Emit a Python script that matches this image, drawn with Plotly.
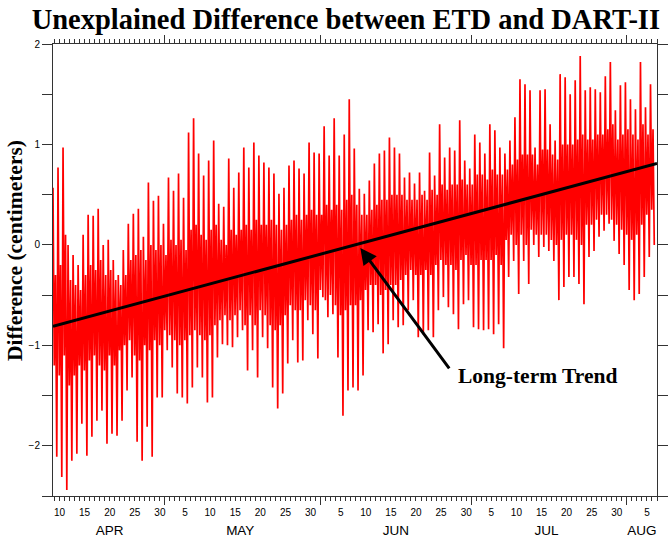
import pandas as pd
import plotly.graph_objects as go

# Daily readings (one row of 24 per fifth of the record), centimetres
day_top = [0.57,0.77,0.97,0.0,-0.1,-0.2,0.1,0.3,0.29,0.36,0.0,0.05,-0.15,-0.3,-0.05,0.21,0.31,0.36,0.08,0.62,0.44,0.49,0.21,0.67,
           0.54,0.71,0.47,1.12,1.26,0.91,0.69,0.84,1.04,0.41,0.38,0.86,0.57,0.72,0.97,0.77,1.02,0.89,0.82,0.77,0.71,0.51,0.57,0.79,
           0.84,0.76,0.71,1.02,0.92,0.91,1.18,0.89,1.26,0.89,1.1,1.45,0.96,0.56,0.51,0.64,0.81,0.91,0.94,1.07,0.97,0.91,0.67,0.72,
           0.61,0.72,0.54,0.92,0.69,1.2,0.87,0.97,0.94,1.24,0.84,0.76,1.1,1.02,0.91,1.2,1.14,0.97,0.91,1.04,1.27,1.65,1.6,1.54,
           0.97,1.54,1.55,1.2,1.04,1.7,1.67,1.5,1.64,1.88,1.54,1.57,1.55,1.52,1.68,1.82,1.34,1.59,1.62,1.45,1.35,1.82,1.37,1.6]
day_body_lo = [-1.2,-1.3,-1.1,-1.4,-1.3,-1.2,-1.25,-1.15,-1.1,-1.2,-1.25,-1.1,-1.2,-1.05,-1.0,-0.95,-1.1,-1.15,-1.0,-1.05,-0.95,-1.0,-0.85,-0.9,
               -0.95,-1.0,-0.95,-0.9,-0.85,-0.9,-0.95,-0.9,-0.8,-0.75,-0.7,-0.75,-0.7,-0.65,-0.8,-0.7,-0.8,-0.65,-0.7,-0.8,-0.85,-0.8,-0.7,-0.6,
               -0.65,-0.65,-0.55,-0.6,-0.65,-0.45,-0.55,-0.5,-0.6,-0.7,-0.65,-0.6,-0.6,-0.55,-0.45,-0.4,-0.4,-0.5,-0.45,-0.4,-0.4,-0.35,-0.3,-0.25,
               -0.3,-0.3,-0.25,-0.3,-0.2,-0.15,-0.2,-0.2,-0.25,-0.15,-0.1,-0.2,-0.2,-0.15,-0.15,-0.15,-0.1,-0.2,0.05,0.1,0.0,0.1,0.0,0.15,
               0.1,0.1,0.1,0.05,0.0,0.05,0.1,0.1,0.05,0.0,0.2,0.2,0.25,0.3,0.3,0.25,0.2,0.15,0.1,0.05,0.1,0.2,0.3,0.35]
day_bottom = [-2.11,-2.31,-2.44,-2.15,-2.08,-1.78,-2.1,-1.91,-1.75,-1.65,-1.98,-1.88,-1.9,-1.75,-1.45,-1.32,-1.96,-2.15,-1.81,-2.11,-1.52,-1.52,-1.05,-1.22,
              -1.48,-1.52,-1.58,-1.42,-1.22,-1.32,-1.57,-1.52,-1.12,-0.99,-1.0,-1.02,-0.92,-0.85,-1.25,-1.05,-1.32,-0.92,-1.03,-1.42,-1.63,-1.48,-1.18,-0.95,
              -1.17,-1.15,-0.75,-0.89,-1.13,-0.52,-0.72,-0.69,-1.12,-1.7,-1.45,-1.42,-1.45,-1.3,-0.85,-0.87,-0.79,-1.08,-0.99,-0.75,-0.82,-0.8,-0.65,-0.55,
              -0.92,-0.89,-0.85,-0.92,-0.65,-0.52,-0.62,-0.69,-0.84,-0.59,-0.55,-0.82,-0.84,-0.85,-0.84,-0.89,-0.79,-1.03,-0.32,-0.16,-0.49,-0.16,-0.39,0.0,
              -0.12,-0.02,-0.06,-0.16,-0.55,-0.42,-0.32,-0.32,-0.39,-0.59,-0.12,-0.06,0.08,0.14,0.21,0.04,-0.09,-0.2,-0.45,-0.55,-0.49,-0.32,-0.12,0.0]
day_body_hi = [-0.3,-0.2,0.1,-0.35,-0.4,-0.45,-0.3,-0.2,-0.25,-0.15,-0.3,-0.25,-0.35,-0.4,-0.3,-0.15,-0.1,-0.05,-0.15,0.0,-0.05,0.0,-0.1,0.05,
               0.0,0.05,-0.05,0.15,0.2,0.1,0.05,0.15,0.2,0.05,0.0,0.15,0.1,0.15,0.2,0.15,0.25,0.2,0.2,0.25,0.2,0.15,0.2,0.25,
               0.3,0.25,0.3,0.35,0.3,0.3,0.4,0.35,0.4,0.35,0.45,0.5,0.4,0.3,0.3,0.35,0.4,0.45,0.45,0.5,0.5,0.5,0.45,0.45,
               0.45,0.5,0.45,0.55,0.5,0.6,0.55,0.6,0.6,0.65,0.6,0.6,0.7,0.7,0.65,0.75,0.7,0.7,0.75,0.8,0.85,0.9,0.9,0.9,
               0.8,0.95,0.95,0.9,0.85,1.0,1.0,1.0,1.05,1.1,1.05,1.05,1.1,1.1,1.15,1.2,1.05,1.1,1.15,1.1,1.05,1.2,1.1,1.15]

record_start = "2007-04-08 17:00"
sample_step = "6h"

trend_dates = ["2007-04-08 17:00", "2007-08-07 00:00"]
trend_values = [-0.81, 0.81]

x_range = ["2007-04-08 17:00", "2007-08-07 00:00"]
month_starts = ["2007-05-01", "2007-06-01", "2007-07-01", "2007-08-01"]
day_label_dates = ["2007-04-10","2007-04-15","2007-04-20","2007-04-25","2007-04-30",
                   "2007-05-05","2007-05-10","2007-05-15","2007-05-20","2007-05-25","2007-05-30",
                   "2007-06-05","2007-06-10","2007-06-15","2007-06-20","2007-06-25","2007-06-30",
                   "2007-07-05","2007-07-10","2007-07-15","2007-07-20","2007-07-25","2007-07-30",
                   "2007-08-05"]
day_label_text = ["10","15","20","25","30","5","10","15","20","25","30",
                  "5","10","15","20","25","30","5","10","15","20","25","30","5"]
month_label_dates = ["2007-04-20", "2007-05-16", "2007-06-16", "2007-07-16", "2007-08-04"]
month_label_text = ["APR", "MAY", "JUN", "JUL", "AUG"]
y_tick_vals = [-2, -1, 0, 1, 2]
y_tick_text = ["\u22122", "\u22121", "0", "1", "2"]
y_minor_vals = [-2.5, -1.5, -0.5, 0.5, 1.5]

series = []
for a, b, c, d in zip(day_top, day_body_lo, day_body_hi, day_bottom):
    series.extend([a, b, c, d])
times = pd.date_range(start=record_start, periods=len(series), freq=sample_step)

SERIF = "Liberation Serif"
SANS = "Liberation Sans"

fig = go.Figure()
fig.add_trace(go.Scatter(x=times, y=series, mode="lines",
                         line=dict(color="#ff0000", width=1.7, simplify=False),
                         showlegend=False, hoverinfo="skip"))
fig.add_trace(go.Scatter(x=pd.to_datetime(trend_dates), y=trend_values, mode="lines",
                         line=dict(color="black", width=3), showlegend=False, hoverinfo="skip"))
# placeholder traces so the label-only overlay axes get drawn
for ax in ["x2", "x3"]:
    fig.add_trace(go.Scatter(x=[x_range[0]], y=[None], xaxis=ax, yaxis="y", mode="lines",
                             showlegend=False, hoverinfo="skip"))

fig.update_layout(
    width=669, height=539,
    margin=dict(l=53, r=12, t=44, b=43, autoexpand=False),
    paper_bgcolor="white", plot_bgcolor="white",
    title=dict(text="Unexplained Difference between ETD and DART-II",
               font=dict(family=SERIF, size=28.5, color="black", weight="bold"),
               x=0.517, xanchor="center", xref="container", y=0.965, yanchor="middle"),
    xaxis=dict(type="date", range=x_range, tickvals=month_starts, ticktext=[""] * len(month_starts),
               ticks="outside", ticklen=8, tickcolor="#333", tickwidth=1, automargin=False,
               minor=dict(dtick=86400000, ticks="outside", ticklen=4, tickcolor="#333", tickwidth=1),
               showline=True, linecolor="#333", linewidth=1, mirror="ticks",
               showgrid=False, zeroline=False),
    xaxis2=dict(type="date", range=x_range, overlaying="x", anchor="y", side="bottom",
                tickvals=day_label_dates, ticktext=day_label_text, ticks="", automargin=False,
                tickfont=dict(family=SANS, size=10, color="black"), ticklabelstandoff=9,
                showline=False, showgrid=False, zeroline=False),
    xaxis3=dict(type="date", range=x_range, overlaying="x", anchor="y", side="bottom",
                tickvals=month_label_dates, ticktext=month_label_text, ticks="", automargin=False,
                tickfont=dict(family=SANS, size=13.5, color="black"), ticklabelstandoff=24,
                showline=False, showgrid=False, zeroline=False),
    yaxis=dict(range=[-2.5, 2], tickvals=y_tick_vals, ticktext=y_tick_text, automargin=False,
               ticks="outside", ticklen=10, tickcolor="#333", tickwidth=1,
               minor=dict(tickvals=y_minor_vals, ticks="outside", ticklen=10, tickcolor="#333", tickwidth=1),
               tickfont=dict(family=SANS, size=10, color="black"),
               showline=True, linecolor="#333", linewidth=1, mirror="ticks",
               showgrid=False, zeroline=False),
)

fig.add_annotation(x=-0.063, y=0.544, xref="paper", yref="paper", text="Difference (centimeters)",
                   textangle=-90, showarrow=False, xanchor="center", yanchor="middle",
                   font=dict(family=SERIF, size=21.5, color="black", weight="bold"))
fig.add_annotation(x="2007-06-08 22:00", y=-0.03, xref="x", yref="y", text="",
                   showarrow=True, arrowhead=2, arrowsize=1.1, arrowwidth=3, arrowcolor="black",
                   ax=90, ay=122)
fig.add_annotation(x="2007-07-14 03:00", y=-1.31, xref="x", yref="y", text="Long-term Trend",
                   showarrow=False, font=dict(family=SERIF, size=21.5, color="black", weight="bold"))

fig.write_html("out.html")
